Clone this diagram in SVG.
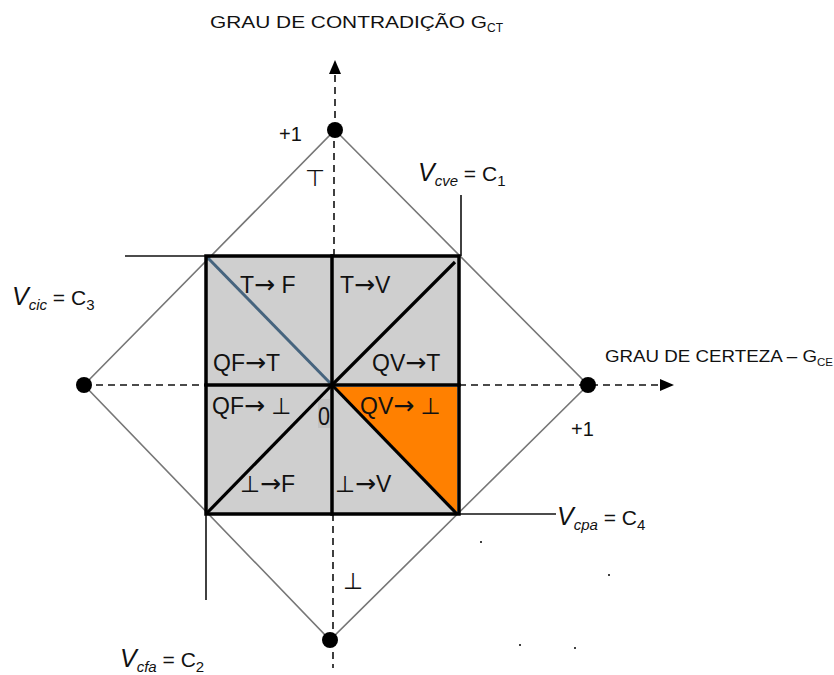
<svg xmlns="http://www.w3.org/2000/svg" width="834" height="675" viewBox="0 0 834 675">
<defs>
<style>
.t{font-family:"Liberation Sans","DejaVu Sans",sans-serif;fill:#111}
.cell{font-size:23px}
.ar{font-family:"DejaVu Sans",sans-serif;font-size:25px}
.ax{font-size:17px}
.v{font-size:21px}
.vv{font-size:25px}
.it{font-style:italic}
.sub{font-size:15px}
.dia{stroke:#777;stroke-width:1.6;fill:none}
.axis{stroke:#111;stroke-width:1.6;stroke-dasharray:7 5;fill:none}
.ext{stroke:#111;stroke-width:1.6}
.thick{stroke:#000;stroke-width:3.5;fill:none;stroke-linecap:square}
</style>
<marker id="arr" markerWidth="14" markerHeight="12" refX="12" refY="6" orient="auto" markerUnits="userSpaceOnUse">
<path d="M0,0 L14,6 L0,12 Z" fill="#000"/>
</marker>
</defs>
<rect width="834" height="675" fill="#fff"/>

<g id="cells">
<rect x="206" y="256" width="253" height="258" fill="#cfcfcf"/>
<polygon points="335,387 457,387 457,512" fill="#ff8000"/>
<rect x="318" y="399" width="12" height="29" fill="#c2c2c2"/>
</g>

<g id="connectors">
<polygon class="dia" points="335,130 588,385 330,640 84,385"/>
<line class="axis" x1="333" y1="640" x2="333" y2="668"/>
<line class="axis" x1="333" y1="514" x2="333" y2="640"/>
<line class="axis" x1="334" y1="256" x2="334" y2="130"/>
<line class="axis" x1="335" y1="130" x2="335" y2="62" marker-end="url(#arr)"/>
<line class="axis" x1="84" y1="385" x2="206" y2="385"/>
<line class="axis" x1="459" y1="385" x2="672" y2="385" marker-end="url(#arr)"/>
<line class="ext" x1="125" y1="256" x2="206" y2="256"/>
<line class="ext" x1="461" y1="195" x2="461" y2="256"/>
<line class="ext" x1="459" y1="514" x2="556" y2="514"/>
<line class="ext" x1="206" y1="514" x2="206" y2="600"/>
<line x1="206" y1="256" x2="332" y2="385" stroke="#46647e" stroke-width="3"/>
<line x1="332" y1="385" x2="455" y2="262" stroke="#000" stroke-width="3.2"/>
<line x1="206" y1="514" x2="332" y2="385" stroke="#000" stroke-width="3.2"/>
<line x1="332" y1="385" x2="457" y2="514" stroke="#000" stroke-width="3.2"/>
<rect class="thick" x="206" y="256" width="253" height="258"/>
<line class="thick" x1="206" y1="385" x2="459" y2="385"/>
<line class="thick" x1="332" y1="256" x2="332" y2="514"/>
</g>

<g id="dots">
<circle cx="335" cy="130" r="8" fill="#000"/>
<circle cx="84" cy="385" r="8" fill="#000"/>
<circle cx="588" cy="385" r="8" fill="#000"/>
<circle cx="330" cy="640" r="8" fill="#000"/>
<circle cx="481" cy="542" r="1" fill="#000"/>
<circle cx="609" cy="575" r="1" fill="#000"/>
<circle cx="520" cy="645" r="1" fill="#000"/>
<circle cx="575" cy="648" r="1" fill="#000"/>
</g>

<g id="axis-labels">
<text class="t ax" x="210" y="28" textLength="277" lengthAdjust="spacingAndGlyphs">GRAU DE  CONTRADIÇÃO G</text>
<text class="t" x="487" y="32" font-size="12">CT</text>
<text class="t ax" x="605" y="362" textLength="212" lengthAdjust="spacingAndGlyphs">GRAU DE CERTEZA – G</text>
<text class="t" x="817" y="366" font-size="11" textLength="16" lengthAdjust="spacingAndGlyphs">CE</text>
<text class="t" x="279" y="141" font-size="20">+1</text>
<text class="t" x="571" y="436" font-size="20">+1</text>
<text class="t" x="305" y="186" font-size="23" font-family="DejaVu Sans">⊤</text>
<text class="t" x="343" y="589" font-size="23" font-family="DejaVu Sans">⊥</text>
<text class="t" x="318" y="425" font-size="26" textLength="12" lengthAdjust="spacingAndGlyphs">0</text>
</g>

<g id="cell-labels">
<text class="t cell" x="240" y="293">T<tspan class="ar">→</tspan> F</text>
<text class="t cell" x="340" y="293">T<tspan class="ar">→</tspan>V</text>
<text class="t cell" x="213" y="371">QF<tspan class="ar">→</tspan>T</text>
<text class="t cell" x="372" y="371">QV<tspan class="ar">→</tspan>T</text>
<text class="t cell" x="212" y="414">QF<tspan class="ar">→</tspan> ⊥</text>
<text class="t cell" x="360" y="414">QV<tspan class="ar">→</tspan> ⊥</text>
<text class="t cell" x="240" y="492">⊥<tspan class="ar">→</tspan>F</text>
<text class="t cell" x="335" y="492">⊥<tspan class="ar">→</tspan>V</text>
</g>

<g id="v-labels">
<text class="t v" x="418" y="181"><tspan class="it vv">V</tspan><tspan class="it sub" dy="5">cve</tspan><tspan dy="-5"> = C</tspan><tspan class="sub" dy="5">1</tspan></text>
<text class="t v" x="12" y="305"><tspan class="it vv">V</tspan><tspan class="it sub" dy="5">cic</tspan><tspan dy="-5"> = C</tspan><tspan class="sub" dy="5">3</tspan></text>
<text class="t v" x="557" y="525"><tspan class="it vv">V</tspan><tspan class="it sub" dy="5">cpa</tspan><tspan dy="-5"> = C</tspan><tspan class="sub" dy="5">4</tspan></text>
<text class="t v" x="120" y="667"><tspan class="it vv">V</tspan><tspan class="it sub" dy="5">cfa</tspan><tspan dy="-5"> = C</tspan><tspan class="sub" dy="5">2</tspan></text>
</g>
</svg>
